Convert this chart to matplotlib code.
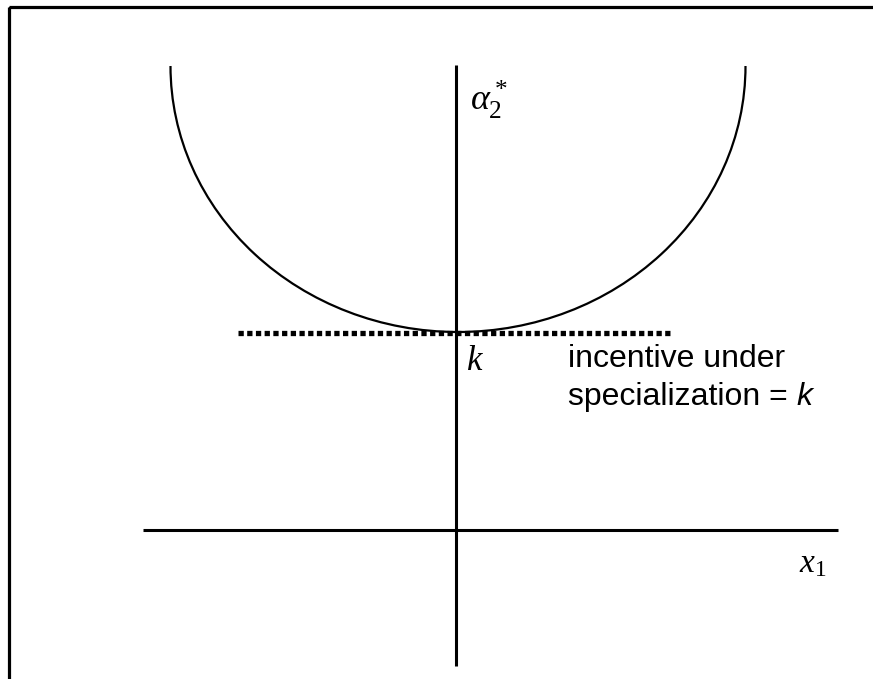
import matplotlib
matplotlib.use("Agg")
import matplotlib.pyplot as plt
from matplotlib.patches import Arc, Rectangle

plt.rcParams['mathtext.fontset'] = 'custom'
plt.rcParams['mathtext.rm'] = 'Liberation Serif'
plt.rcParams['mathtext.it'] = 'Liberation Serif:italic'

# Diagram geometry (pixel-like data coordinates, y downward)
curve_center = [458, 66]
curve_size = [575, 532]          # full width / height of ellipse
k_level_y = [333]
k_line_x = [238, 671]
y_axis_x = [456]
y_axis_span = [65, 666]
x_axis_y = [530]
x_axis_span = [143, 838]

labels = {
    "alpha": r"$\alpha_2^*$",
    "k": r"$k$",
    "x1": r"$x_1$",
    "note1": "incentive under",
    "note2": "specialization = ",
}

fig = plt.figure(figsize=(8.73, 6.79), dpi=100)
ax = fig.add_axes([0, 0, 1, 1])
ax.set_xlim(0, 873)
ax.set_ylim(679, 0)
ax.axis('off')

# frame
ax.add_patch(Rectangle((8.5, 7), 1000, 1000, fill=False, lw=2.3, ec='black'))

# U curve
ax.add_patch(Arc(curve_center, curve_size[0], curve_size[1], theta1=0, theta2=180,
                 lw=1.6, color='black'))

# axes lines
ax.plot([y_axis_x[0], y_axis_x[0]], y_axis_span, color='black', lw=2.2, solid_capstyle='butt')
ax.plot(x_axis_span, [x_axis_y[0], x_axis_y[0]], color='black', lw=2.2, solid_capstyle='butt')

# dotted line
ax.plot(k_line_x, [k_level_y[0], k_level_y[0]], color='black', lw=3.8,
        linestyle=(0, (1, 0.65)), dash_capstyle='butt')

# labels
ax.text(470, 110, labels["alpha"], fontsize=26, ha='left', va='baseline')
ax.text(466, 370, labels["k"], fontsize=25, ha='left', va='baseline')
ax.text(799, 572, labels["x1"], fontsize=24, ha='left', va='baseline')
ax.text(568, 367, labels["note1"], fontsize=23, family='Liberation Sans', ha='left', va='baseline')
t = ax.text(568, 405, labels["note2"], fontsize=23, family='Liberation Sans', ha='left', va='baseline')
fig.canvas.draw()
bb = t.get_window_extent(renderer=fig.canvas.get_renderer())
x_end = ax.transData.inverted().transform((bb.x1, bb.y0))[0]
ax.text(x_end, 405, "k", fontsize=23, family='Liberation Sans', style='italic', ha='left', va='baseline')

fig.savefig("out.png", dpi=100)
